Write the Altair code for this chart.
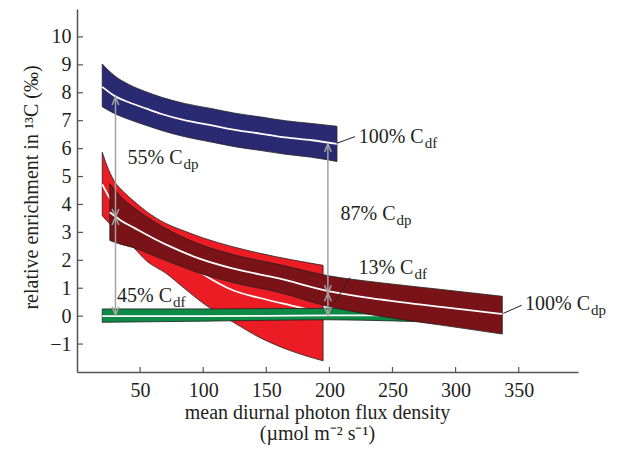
import altair as alt
import pandas as pd

# ---------------- data ----------------
blue_x = [20, 30, 41, 55, 67, 85, 107, 125, 146, 165, 186, 206]
blue_top = [9.03, 8.6, 8.3, 8.03, 7.84, 7.62, 7.43, 7.27, 7.13, 7.0, 6.9, 6.8]
blue_mid = [8.21, 7.88, 7.66, 7.43, 7.24, 7.02, 6.83, 6.67, 6.53, 6.4, 6.3, 6.17]
blue_bot = [7.5, 7.25, 7.05, 6.83, 6.65, 6.43, 6.23, 6.07, 5.93, 5.8, 5.69, 5.54]

red_x = [20, 25, 30, 37, 45, 55, 70, 85, 100, 124, 145, 170, 195]
red_top = [5.87, 5.25, 4.8, 4.45, 4.12, 3.75, 3.33, 3.05, 2.8, 2.48, 2.25, 2.02, 1.82]
red_mid = [4.72, 4.3, 3.95, 3.6, 3.28, 2.88, 2.44, 1.98, 1.5, 0.92, 0.65, 0.38, 0.12]
red_bot = [3.6, 3.35, 3.1, 2.78, 2.45, 1.98, 1.55, 1.0, 0.46, -0.22, -0.77, -1.25, -1.6]

green_x = [20, 60, 100, 150, 200, 250, 290]
green_top = [0.26, 0.26, 0.26, 0.27, 0.28, 0.25, 0.2]
green_mid = [0.0, 0.0, 0.0, 0.01, 0.03, 0.03, 0.02]
green_bot = [-0.22, -0.2, -0.18, -0.15, -0.13, -0.17, -0.22]

dred_x = [26, 35, 45, 60, 75, 97, 124, 160, 199, 240, 290, 337]
dred_top = [4.74, 4.27, 3.89, 3.42, 3.03, 2.58, 2.20, 1.85, 1.45, 1.20, 0.95, 0.71]
dred_mid = [3.72, 3.42, 3.17, 2.8, 2.47, 2.06, 1.70, 1.35, 0.9, 0.6, 0.32, 0.08]
dred_bot = [2.71, 2.57, 2.45, 2.18, 1.91, 1.54, 1.20, 0.85, 0.35, 0.0, -0.33, -0.64]

arrow_x = [30.5, 198.8]
arrow_top = [7.85, 6.17]
arrow_mid = [3.55, 0.82]
arrow_bot = [0.05, 0.03]

label_main = ["55% C", "45% C", "87% C", "13% C", "100% C", "100% C"]
label_sub = ["dp", "df", "dp", "df", "df", "dp"]
label_x = [83.6, 75.3, 252.4, 266.6, 274.7, 406.5]
label_y = [5.46, 0.51, 3.45, 1.5, 6.2, 0.21]

leader_x1 = [205.8, 337.8, 216.3]
leader_y1 = [6.19, 0.1, 1.38]
leader_x2 = [220.3, 352.4, 204.4]
leader_y2 = [6.43, 0.39, 0.5]

x_ticks = [50, 100, 150, 200, 250, 300, 350]
y_ticks = [-1, 0, 1, 2, 3, 4, 5, 6, 7, 8, 9, 10]

# ---------------- chart ----------------
W, H = 501, 363
FONT = "Liberation Serif"
TXT = "#231f20"
AX = "#555555"
xs = alt.Scale(domain=[0, 397], nice=False, zero=False)
ys = alt.Scale(domain=[-2, 11], nice=False, zero=False)

XAXIS = alt.Axis(
    values=x_ticks, ticks=False, labelPadding=8, grid=False,
    labelOverlap=False, labelFlush=False,
    title=["mean diurnal photon flux density", "(µmol m⁻² s⁻¹)"],
    titleX=240, titleY=46, titleBaseline="alphabetic", titleAlign="center",
    titleLineHeight=21,
)
YAXIS = alt.Axis(
    values=y_ticks, ticks=False, labelPadding=6, grid=False,
    labelOverlap=False, labelFlush=False,
    title="relative enrichment in ¹³C (‰)",
    titleX=-40, titleY=178, titleBaseline="alphabetic", titleAlign="center",
    titleAngle=-90,
)


def X(field):
    return alt.X(field, type="quantitative", scale=xs, axis=XAXIS)


def Y(field):
    return alt.Y(field, type="quantitative", scale=ys, axis=YAXIS)


def band(xv, top, mid, bot, color):
    df = pd.DataFrame({"x": xv, "top": top, "mid": mid, "bot": bot})
    area = alt.Chart(df).mark_area(
        fill=color, stroke="#231f20", strokeWidth=0.8, interpolate="monotone", opacity=1
    ).encode(x=X("x"), y=Y("top"), y2="bot:Q")
    line = alt.Chart(df).mark_line(
        color="white", strokeWidth=1.8, interpolate="monotone"
    ).encode(x=X("x"), y=Y("mid"))
    return [area, line]


layers = []

# inward tick marks
xt = pd.DataFrame({"v": x_ticks})
yt = pd.DataFrame({"v": y_ticks})
layers.append(
    alt.Chart(xt).mark_rule(color=AX, strokeWidth=1.2).encode(
        x=X("v"), y=alt.value(H), y2=alt.value(H - 5)
    )
)
layers.append(
    alt.Chart(yt).mark_rule(color=AX, strokeWidth=1.2).encode(
        y=Y("v"), x=alt.value(0), x2=alt.value(6)
    )
)

layers += band(blue_x, blue_top, blue_mid, blue_bot, "#2a2a72")
layers += band(red_x, red_top, red_mid, red_bot, "#ec1c24")
layers += band(green_x, green_top, green_mid, green_bot, "#0d8a45")
layers += band(dred_x, dred_top, dred_mid, dred_bot, "#7a1317")

# arrows
adf = pd.DataFrame({"x": arrow_x, "top": arrow_top, "mid": arrow_mid, "bot": arrow_bot})
layers.append(
    alt.Chart(adf).mark_rule(color="#a3a3a3", strokeWidth=1.5).encode(
        x=X("x"), y=Y("top"), y2="bot:Q"
    )
)
UP = "M-0.42,1L0,0L0.42,1"
DOWN = "M-0.42,-1L0,0L0.42,-1"
for field, shape in [("top", UP), ("mid", DOWN), ("mid", UP), ("bot", DOWN)]:
    layers.append(
        alt.Chart(adf).mark_point(
            shape=shape, size=256, filled=False, stroke="#a3a3a3", strokeWidth=1.5, opacity=1
        ).encode(x=X("x"), y=Y(field))
    )

# leader lines
ldf = pd.DataFrame({"x1": leader_x1, "y1": leader_y1, "x2": leader_x2, "y2": leader_y2})
layers.append(
    alt.Chart(ldf).mark_rule(color="#231f20", strokeWidth=1).encode(
        x=X("x1"), y=Y("y1"), x2="x2:Q", y2="y2:Q"
    )
)

# labels
tdf = pd.DataFrame({"x": label_x, "y": label_y, "main": label_main, "sub": label_sub})
layers.append(
    alt.Chart(tdf).mark_text(
        align="right", baseline="alphabetic", font=FONT, fontSize=20, color=TXT
    ).encode(x=X("x"), y=Y("y"), text="main:N")
)
layers.append(
    alt.Chart(tdf).mark_text(
        align="left", baseline="alphabetic", font=FONT, fontSize=15, color=TXT, dx=1, dy=5
    ).encode(x=X("x"), y=Y("y"), text="sub:N")
)

chart = alt.layer(*layers).properties(
    width=W, height=H,
    autosize=alt.AutoSizeParams(type="none"),
    padding={"left": 69, "top": 1, "right": 30, "bottom": 78},
).configure_view(stroke=None).configure_axis(
    grid=False, domainColor=AX, domainWidth=1.5,
    labelOverlap=False, labelFlush=False,
    labelFont=FONT, labelFontSize=20, labelColor=TXT, labelFontWeight="normal",
    titleFont=FONT, titleFontSize=20, titleColor=TXT, titleFontWeight="normal",
)

chart.save("out.html", embed_options={"renderer": "svg", "actions": False})
